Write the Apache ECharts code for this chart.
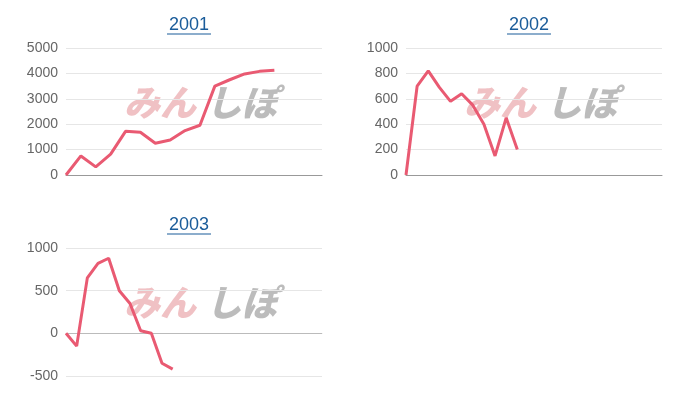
<!DOCTYPE html><html><head><meta charset="utf-8"><script src="https://cdn.jsdelivr.net/npm/echarts@6/dist/echarts.min.js"></script>
<style>body{margin:0}#c{width:700px;height:400px}</style></head><body><div id="c"></div><script>
const titles=['2001','2002','2003'];
const s2001=[0,750,320,820,1720,1680,1250,1380,1750,1960,3500,3750,3980,4080,4120];
const s2002=[0,700,820,690,580,640,550,400,150,450,200];
const s2003=[0,-150,650,820,880,500,350,30,0,-350,-420];
const xMax=[17.2,23,24];
const yMin=[0,0,-500],yMax=[5000,1000,1000],yInt=[1000,200,500];
const data=[s2001,s2002,s2003];
const grids=[{left:66,top:48,width:256,height:127},{left:406,top:48,width:256,height:127},{left:66,top:248,width:256,height:128}];
const chart=echarts.init(document.getElementById('c'));
const opt={animation:false,grid:[],xAxis:[],yAxis:[],series:[],graphic:[]};
grids.forEach((g,i)=>{
 const cx=g.left+123;
 opt.grid.push(g);
 opt.graphic.push({type:'text',x:cx,y:g.top-32,style:{text:titles[i],fill:'#1a5c9a',font:'18px Arial',textAlign:'center'}});
 opt.graphic.push({type:'line',shape:{x1:cx-22,y1:g.top-14,x2:cx+22,y2:g.top-14},style:{stroke:'#1a5c9a',lineWidth:1.2}});
 opt.graphic.push({type:'text',z:-1,x:g.left+58,y:g.top+36,style:{text:'みん',fill:'rgba(232,160,165,0.65)',font:'italic 900 36px "Noto Sans CJK JP"'}});
 opt.graphic.push({type:'text',z:-1,x:g.left+140,y:g.top+36,style:{text:'しぽ',fill:'rgba(165,165,165,0.75)',font:'italic 900 36px "Noto Sans CJK JP"'}});
 opt.xAxis.push({type:'value',gridIndex:i,min:0,max:xMax[i],axisLine:{lineStyle:{color:i==2?'#ddd':'#999'}},axisTick:{show:false},axisLabel:{show:false},splitLine:{show:false}});
 opt.yAxis.push({type:'value',gridIndex:i,min:yMin[i],max:yMax[i],interval:yInt[i],axisLine:{show:false},axisTick:{show:false},axisLabel:{color:'#666',fontSize:14,fontFamily:'Arial',formatter:v=>String(v)},splitLine:{lineStyle:{color:'#e6e6e6'}}});
 opt.series.push({type:'line',xAxisIndex:i,yAxisIndex:i,data:data[i].map((v,k)=>[k,v]),symbol:'none',lineStyle:{color:'#e95a72',width:3},z:5});
});
opt.series[2].markLine={silent:true,symbol:'none',label:{show:false},lineStyle:{color:'#bbb',type:'solid',width:1},data:[{yAxis:0}]};
chart.setOption(opt);
</script></body></html>
